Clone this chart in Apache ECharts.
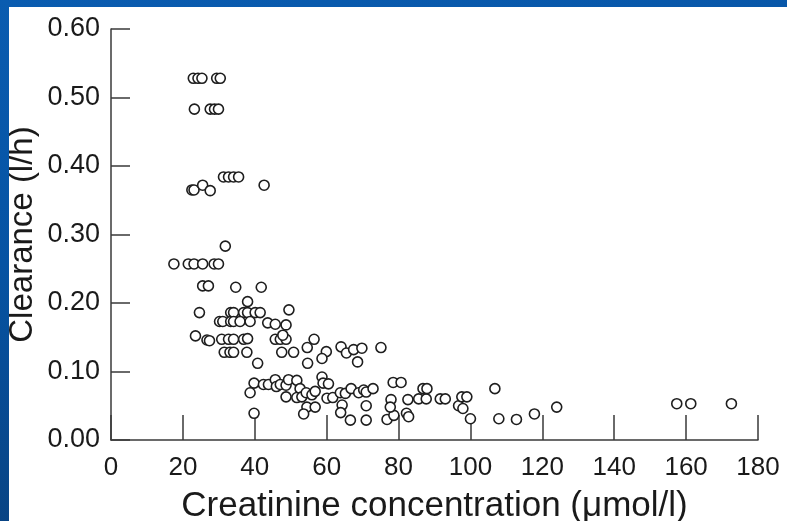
<!DOCTYPE html>
<html>
<head>
<meta charset="utf-8">
<script src="https://cdn.jsdelivr.net/npm/echarts@6/dist/echarts.min.js"></script>
<style>
html,body{margin:0;padding:0;}
#frame{position:relative;width:787px;height:521px;background:linear-gradient(170deg,#0a5cb0 0%,#0653a3 40%,#0a3c74 100%);overflow:hidden;}
#chart{position:absolute;left:9px;top:7px;width:778px;height:514px;background:#ffffff;}
</style>
</head>
<body>
<div id="frame"><div id="chart"></div></div>
<script>
// Creatinine concentration (µmol/l) and clearance (l/h)
const creatinine = [
  22.9,24.2,25.3,29.4,30.4,
  23.2,27.6,28.8,29.9,
  31.3,32.7,34.1,35.5,
  22.5,23.1,25.5,27.6,42.6,
  31.8,
  17.5,21.5,23.1,25.5,28.7,29.9,
  25.5,27.1,34.7,41.8,
  38.0,
  24.6,33.3,34.1,36.9,38.0,40.1,41.5,49.5,
  30.2,31.1,33.3,34.1,35.9,38.7,43.6,45.7,48.7,
  23.5,
  26.7,27.4,30.8,32.7,34.1,36.9,38.0,45.7,47.1,48.7,47.8,56.5,
  31.5,33.1,34.1,37.8,47.5,50.8,
  54.6,59.9,58.7,
  40.8,54.7,
  64.0,65.5,67.5,69.8,75.1,68.6,
  39.8,38.7,42.4,43.8,45.7,46.0,47.1,48.7,49.4,51.7,52.6,
  48.7,51.7,53.1,54.3,55.9,56.8,
  58.7,59.0,60.5,60.1,61.7,
  63.8,65.2,66.8,68.9,70.3,71.0,72.9,
  54.5,56.8,53.6,64.3,63.9,66.6,71.0,71.0,39.8,
  78.5,80.7,76.8,78.7,77.9,77.7,82.2,82.8,82.6,85.6,87.7,86.8,87.9,91.6,93.0,
  96.7,97.9,97.6,99.0,100.0,106.8,107.9,112.8,117.8,124.0,157.4,161.3,172.6
];
const clearance = [
  0.528,0.528,0.528,0.528,0.528,
  0.483,0.483,0.483,0.483,
  0.384,0.384,0.384,0.384,
  0.365,0.365,0.372,0.364,0.372,
  0.283,
  0.257,0.257,0.257,0.257,0.257,0.257,
  0.225,0.225,0.223,0.223,
  0.202,
  0.186,0.186,0.186,0.186,0.186,0.186,0.186,0.190,
  0.173,0.173,0.173,0.173,0.173,0.173,0.171,0.169,0.168,
  0.152,
  0.146,0.145,0.147,0.147,0.147,0.147,0.148,0.147,0.147,0.147,0.153,0.147,
  0.128,0.128,0.128,0.128,0.128,0.128,
  0.135,0.129,0.119,
  0.112,0.112,
  0.136,0.127,0.132,0.134,0.135,0.114,
  0.083,0.069,0.081,0.081,0.088,0.078,0.081,0.080,0.088,0.087,0.075,
  0.063,0.062,0.063,0.069,0.066,0.071,
  0.092,0.083,0.082,0.061,0.062,
  0.069,0.068,0.075,0.069,0.073,0.070,0.075,
  0.048,0.048,0.038,0.051,0.040,0.029,0.050,0.029,0.039,
  0.084,0.084,0.030,0.036,0.059,0.048,0.039,0.034,0.059,0.060,0.060,0.075,0.075,0.060,0.060,
  0.050,0.046,0.063,0.063,0.031,0.075,0.031,0.030,0.038,0.048,0.053,0.053,0.053
];
const xTicks = [0,20,40,60,80,100,120,140,160,180];
const yTicks = [0.00,0.10,0.20,0.30,0.40,0.50,0.60];
const xTitle = 'Creatinine concentration (\u03bcmol/l)';
const yTitle = 'Clearance (l/h)';

const points = creatinine.map((x, i) => [x, clearance[i]]);
const font = "'Liberation Sans', Arial, Helvetica, sans-serif";
const axisColor = '#3a3a3a';

const chart = echarts.init(document.getElementById('chart'), null, {renderer: 'canvas'});
chart.setOption({
  animation: false,
  backgroundColor: '#ffffff',
  grid: {left: 102, right: 29, top: 22, bottom: 81, containLabel: false, outerBoundsMode: 'none'},
  xAxis: {
    type: 'value',
    min: xTicks[0], max: xTicks[xTicks.length - 1], interval: 20,
    splitLine: {show: false},
    axisLine: {show: true, lineStyle: {color: axisColor, width: 1.5}},
    axisTick: {show: true, inside: true, length: 25, lineStyle: {color: axisColor, width: 1.5}},
    axisLabel: {color: '#1a1a1a', fontSize: 26, fontFamily: font, margin: 15},
    name: xTitle, nameLocation: 'middle', nameGap: 49, nameMoveOverlap: false,
    nameTextStyle: {color: '#1a1a1a', fontSize: 35, fontFamily: font}
  },
  yAxis: {
    type: 'value',
    min: yTicks[0], max: yTicks[yTicks.length - 1], interval: 0.1,
    splitLine: {show: false},
    axisLine: {show: true, lineStyle: {color: axisColor, width: 1.5}},
    axisTick: {show: true, inside: true, length: 19, lineStyle: {color: axisColor, width: 1.5}},
    axisLabel: {color: '#1a1a1a', fontSize: 27, fontFamily: font, margin: 11,
      formatter: v => v.toFixed(2)},
    name: yTitle, nameLocation: 'middle', nameGap: 72, nameRotate: 90, nameMoveOverlap: false,
    nameTextStyle: {color: '#1a1a1a', fontSize: 33, fontFamily: font}
  },
  series: [{
    type: 'scatter',
    data: points,
    symbol: 'circle',
    symbolSize: 10,
    itemStyle: {color: '#ffffff', borderColor: '#1e1e1e', borderWidth: 1.6, opacity: 1}
  }]
});
</script>
</body>
</html>
